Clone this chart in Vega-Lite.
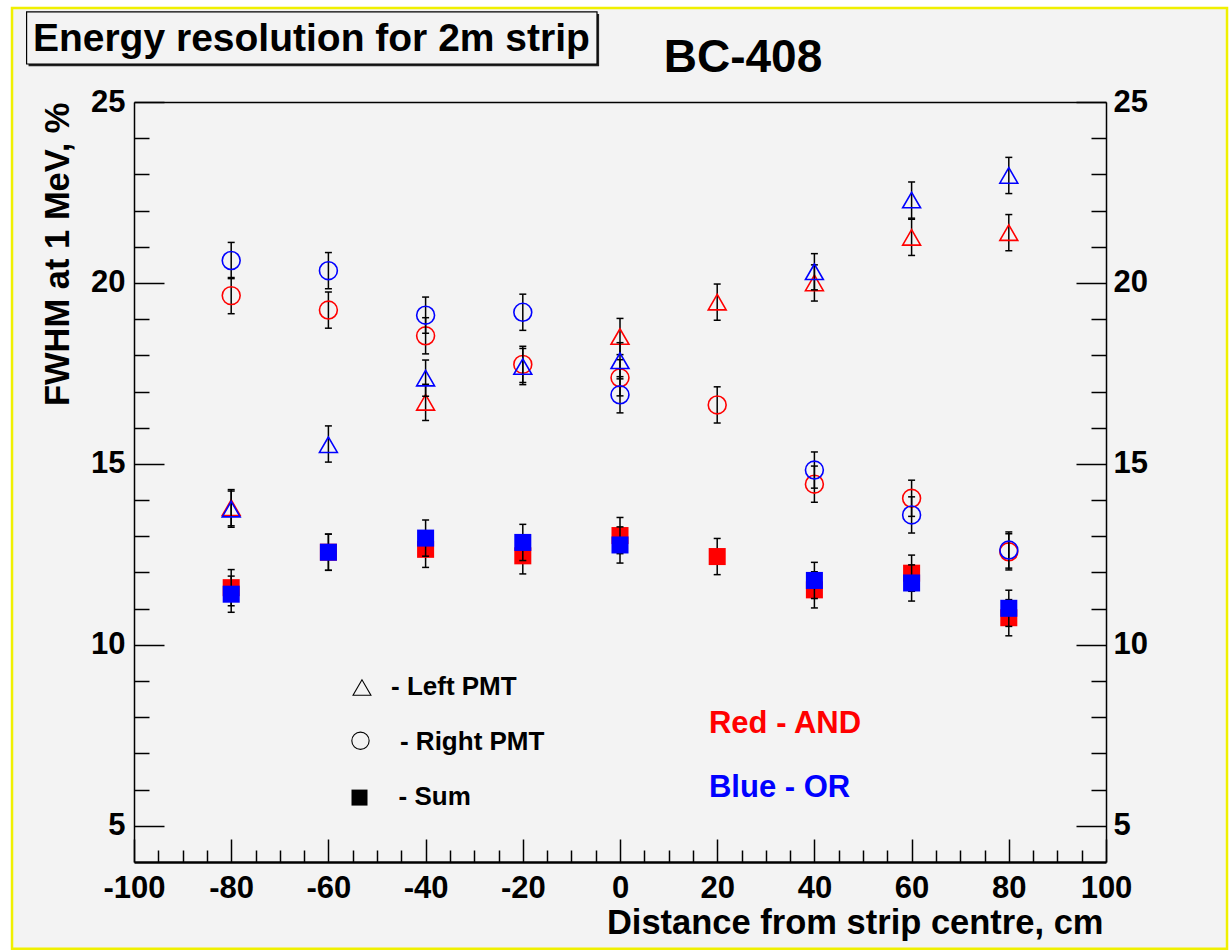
{
  "$schema": "https://vega.github.io/schema/vega-lite/v6.json",
  "width": 972,
  "height": 760,
  "autosize": {"type": "none"},
  "padding": {"left": 134, "top": 102, "right": 125, "bottom": 90},
  "background": "#ffffff",
  "config": {
    "view": {"stroke": null, "fill": null},
    "axis": {"grid": false, "labelFont": "Liberation Sans", "labelFontWeight": "bold", "labelColor": "#000000", "titleFont": "Liberation Sans", "titleFontWeight": "bold", "titleColor": "#000000", "domainColor": "#000000", "tickColor": "#000000", "labelFlush": false, "labelOverlap": false},
    "text": {"font": "Liberation Sans", "fontWeight": "bold"}
  },
  "datasets": {
    "pts": [
      {"x": -80, "y": 13.79, "lo": 13.29, "hi": 14.29, "det": "Left PMT", "trig": "AND"},
      {"x": -40, "y": 16.70, "lo": 16.20, "hi": 17.20, "det": "Left PMT", "trig": "AND"},
      {"x": 0, "y": 18.52, "lo": 18.02, "hi": 19.02, "det": "Left PMT", "trig": "AND"},
      {"x": 20, "y": 19.47, "lo": 18.97, "hi": 19.97, "det": "Left PMT", "trig": "AND"},
      {"x": 40, "y": 20.00, "lo": 19.50, "hi": 20.50, "det": "Left PMT", "trig": "AND"},
      {"x": 60, "y": 21.26, "lo": 20.76, "hi": 21.76, "det": "Left PMT", "trig": "AND"},
      {"x": 80, "y": 21.39, "lo": 20.89, "hi": 21.89, "det": "Left PMT", "trig": "AND"},
      {"x": -80, "y": 19.65, "lo": 19.15, "hi": 20.15, "det": "Right PMT", "trig": "AND"},
      {"x": -60, "y": 19.25, "lo": 18.75, "hi": 19.75, "det": "Right PMT", "trig": "AND"},
      {"x": -40, "y": 18.54, "lo": 18.04, "hi": 19.04, "det": "Right PMT", "trig": "AND"},
      {"x": -20, "y": 17.75, "lo": 17.25, "hi": 18.25, "det": "Right PMT", "trig": "AND"},
      {"x": 0, "y": 17.38, "lo": 16.88, "hi": 17.88, "det": "Right PMT", "trig": "AND"},
      {"x": 20, "y": 16.63, "lo": 16.13, "hi": 17.13, "det": "Right PMT", "trig": "AND"},
      {"x": 40, "y": 14.44, "lo": 13.94, "hi": 14.94, "det": "Right PMT", "trig": "AND"},
      {"x": 60, "y": 14.05, "lo": 13.55, "hi": 14.55, "det": "Right PMT", "trig": "AND"},
      {"x": 80, "y": 12.57, "lo": 12.07, "hi": 13.07, "det": "Right PMT", "trig": "AND"},
      {"x": -80, "y": 11.58, "lo": 11.08, "hi": 12.08, "det": "Sum", "trig": "AND"},
      {"x": -60, "y": 12.56, "lo": 12.06, "hi": 13.06, "det": "Sum", "trig": "AND"},
      {"x": -40, "y": 12.64, "lo": 12.14, "hi": 13.14, "det": "Sum", "trig": "AND"},
      {"x": -20, "y": 12.46, "lo": 11.96, "hi": 12.96, "det": "Sum", "trig": "AND"},
      {"x": 0, "y": 13.02, "lo": 12.52, "hi": 13.52, "det": "Sum", "trig": "AND"},
      {"x": 20, "y": 12.44, "lo": 11.94, "hi": 12.94, "det": "Sum", "trig": "AND"},
      {"x": 40, "y": 11.52, "lo": 11.02, "hi": 12.02, "det": "Sum", "trig": "AND"},
      {"x": 60, "y": 11.98, "lo": 11.48, "hi": 12.48, "det": "Sum", "trig": "AND"},
      {"x": 80, "y": 10.75, "lo": 10.25, "hi": 11.25, "det": "Sum", "trig": "AND"},
      {"x": -80, "y": 13.75, "lo": 13.25, "hi": 14.25, "det": "Left PMT", "trig": "OR"},
      {"x": -60, "y": 15.53, "lo": 15.05, "hi": 16.05, "det": "Left PMT", "trig": "OR"},
      {"x": -40, "y": 17.37, "lo": 16.87, "hi": 17.87, "det": "Left PMT", "trig": "OR"},
      {"x": -20, "y": 17.69, "lo": 17.19, "hi": 18.19, "det": "Left PMT", "trig": "OR"},
      {"x": 0, "y": 17.85, "lo": 17.35, "hi": 18.35, "det": "Left PMT", "trig": "OR"},
      {"x": 40, "y": 20.31, "lo": 19.81, "hi": 20.81, "det": "Left PMT", "trig": "OR"},
      {"x": 60, "y": 22.29, "lo": 21.79, "hi": 22.79, "det": "Left PMT", "trig": "OR"},
      {"x": 80, "y": 22.97, "lo": 22.47, "hi": 23.47, "det": "Left PMT", "trig": "OR"},
      {"x": -80, "y": 20.62, "lo": 20.12, "hi": 21.12, "det": "Right PMT", "trig": "OR"},
      {"x": -60, "y": 20.34, "lo": 19.84, "hi": 20.84, "det": "Right PMT", "trig": "OR"},
      {"x": -40, "y": 19.11, "lo": 18.61, "hi": 19.61, "det": "Right PMT", "trig": "OR"},
      {"x": -20, "y": 19.19, "lo": 18.69, "hi": 19.69, "det": "Right PMT", "trig": "OR"},
      {"x": 0, "y": 16.91, "lo": 16.41, "hi": 17.41, "det": "Right PMT", "trig": "OR"},
      {"x": 40, "y": 14.83, "lo": 14.33, "hi": 15.33, "det": "Right PMT", "trig": "OR"},
      {"x": 60, "y": 13.59, "lo": 13.09, "hi": 14.09, "det": "Right PMT", "trig": "OR"},
      {"x": 80, "y": 12.62, "lo": 12.12, "hi": 13.12, "det": "Right PMT", "trig": "OR"},
      {"x": -80, "y": 11.40, "lo": 10.90, "hi": 11.90, "det": "Sum", "trig": "OR"},
      {"x": -60, "y": 12.56, "lo": 12.06, "hi": 13.06, "det": "Sum", "trig": "OR"},
      {"x": -40, "y": 12.95, "lo": 12.45, "hi": 13.45, "det": "Sum", "trig": "OR"},
      {"x": -20, "y": 12.83, "lo": 12.33, "hi": 13.33, "det": "Sum", "trig": "OR"},
      {"x": 0, "y": 12.76, "lo": 12.26, "hi": 13.26, "det": "Sum", "trig": "OR"},
      {"x": 40, "y": 11.78, "lo": 11.28, "hi": 12.28, "det": "Sum", "trig": "OR"},
      {"x": 60, "y": 11.71, "lo": 11.21, "hi": 12.21, "det": "Sum", "trig": "OR"},
      {"x": 80, "y": 11.01, "lo": 10.51, "hi": 11.51, "det": "Sum", "trig": "OR"}
    ]
  },
  "layer": [
    {
      "data": {"values": [{}]},
      "mark": {"type": "rect", "fill": "#f3f3f3", "stroke": "#f0f000", "strokeWidth": 2.5},
      "encoding": {
        "x": {"datum": -125.1, "type": "quantitative", "scale": {"domain": [-100, 100], "nice": false, "zero": false}, "axis": {"orient": "top", "zindex": 1, "ticks": false, "labels": false, "title": null, "domainWidth": 1.5}},
        "x2": {"datum": 124.9},
        "y": {"datum": 27.6, "type": "quantitative", "scale": {"domain": [4, 25], "nice": false, "zero": false}, "axis": null},
        "y2": {"datum": 1.6}
      }
    },
    {
      "data": {"values": [{}]},
      "mark": {"type": "rect", "fill": "#222222"},
      "encoding": {
        "x": {"datum": -121.7, "type": "quantitative", "scale": {"domain": [-100, 100], "nice": false, "zero": false}, "axis": null},
        "x2": {"datum": -4.3},
        "y": {"datum": 27.43, "type": "quantitative", "scale": {"domain": [4, 25], "nice": false, "zero": false}, "axis": null},
        "y2": {"datum": 25.99}
      }
    },
    {
      "data": {"values": [{}]},
      "mark": {"type": "rect", "fill": "#f3f3f3", "stroke": "#000000", "strokeWidth": 1.2},
      "encoding": {
        "x": {"datum": -122.1, "type": "quantitative", "scale": {"domain": [-100, 100], "nice": false, "zero": false}, "axis": null},
        "x2": {"datum": -4.73},
        "y": {"datum": 27.49, "type": "quantitative", "scale": {"domain": [4, 25], "nice": false, "zero": false}, "axis": null},
        "y2": {"datum": 26.05}
      }
    },
    {
      "data": {"values": [{"label": "Energy resolution for 2m strip"}]},
      "mark": {"type": "text", "align": "left", "baseline": "alphabetic", "fontSize": 39, "color": "#000000"},
      "encoding": {
        "x": {"datum": -120.8, "type": "quantitative", "scale": {"domain": [-100, 100], "nice": false, "zero": false}, "axis": null},
        "y": {"datum": 26.41, "type": "quantitative", "scale": {"domain": [4, 25], "nice": false, "zero": false}, "axis": null},
        "text": {"field": "label"}
      }
    },
    {
      "data": {"values": [{"label": "BC-408"}]},
      "mark": {"type": "text", "align": "center", "baseline": "alphabetic", "fontSize": 46, "color": "#000000"},
      "encoding": {
        "x": {"datum": 25.31, "type": "quantitative", "scale": {"domain": [-100, 100], "nice": false, "zero": false}, "axis": null},
        "y": {"datum": 25.83, "type": "quantitative", "scale": {"domain": [4, 25], "nice": false, "zero": false}, "axis": null},
        "text": {"field": "label"}
      }
    },
    {
      "data": {"name": "pts"},
      "transform": [{"filter": "datum.trig === 'AND'"}],
      "mark": {"type": "rule", "color": "#000000", "strokeWidth": 1.5},
      "encoding": {
        "x": {"field": "x", "type": "quantitative", "scale": {"domain": [-100, 100], "nice": false, "zero": false},
          "axis": {"orient": "bottom", "zindex": 1, "values": [-100, -80, -60, -40, -20, 0, 20, 40, 60, 80, 100], "labelExpr": "datum.value < 0 ? '-' + abs(datum.value) : '' + datum.value", "tickSize": -23, "tickWidth": 1.5, "labelFontSize": 31, "labelPadding": 34, "domainWidth": 2.5, "title": "Distance from strip centre, cm", "titleFontSize": 34.5, "titleAnchor": "end", "titleAlign": "right", "titleBaseline": "alphabetic", "titlePadding": 30, "titleX": 969}},
        "y": {"field": "lo", "type": "quantitative", "scale": {"domain": [4, 25], "nice": false, "zero": false},
          "axis": {"orient": "left", "zindex": 1, "values": [5, 10, 15, 20, 25], "tickSize": -30, "tickWidth": 1.5, "labelFontSize": 31, "labelPadding": 39, "domainWidth": 1.5, "title": "FWHM at 1 MeV, %", "titleFontSize": 34.5, "titleAnchor": "end", "titleAlign": "right", "titleBaseline": "alphabetic", "titlePadding": 22}},
        "y2": {"field": "hi"}
      }
    },
    {
      "data": {"name": "pts"},
      "transform": [{"filter": "datum.trig === 'AND'"}],
      "mark": {"type": "tick", "orient": "horizontal", "color": "#000000", "size": 7, "thickness": 1.5, "opacity": 1},
      "encoding": {
        "x": {"field": "x", "type": "quantitative", "scale": {"domain": [-100, 100], "nice": false, "zero": false},
          "axis": {"orient": "bottom", "zindex": 1, "values": [-95, -90, -85, -75, -70, -65, -55, -50, -45, -35, -30, -25, -15, -10, -5, 5, 10, 15, 25, 30, 35, 45, 50, 55, 65, 70, 75, 85, 90, 95], "tickSize": -12, "tickWidth": 1.5, "labels": false, "domain": false, "title": null}},
        "y": {"field": "lo", "type": "quantitative", "scale": {"domain": [4, 25], "nice": false, "zero": false},
          "axis": {"orient": "left", "zindex": 1, "values": [6, 7, 8, 9, 11, 12, 13, 14, 16, 17, 18, 19, 21, 22, 23, 24], "tickSize": -15, "tickWidth": 1.5, "labels": false, "domain": false, "title": null}}
      }
    },
    {
      "data": {"name": "pts"},
      "transform": [{"filter": "datum.trig === 'AND'"}],
      "mark": {"type": "tick", "orient": "horizontal", "color": "#000000", "size": 7, "thickness": 1.5, "opacity": 1},
      "encoding": {
        "x": {"field": "x", "type": "quantitative", "scale": {"domain": [-100, 100], "nice": false, "zero": false}, "axis": null},
        "y": {"field": "hi", "type": "quantitative", "scale": {"domain": [4, 25], "nice": false, "zero": false},
          "axis": {"orient": "right", "zindex": 1, "values": [5, 10, 15, 20, 25], "tickSize": -30, "tickWidth": 1.5, "labelFontSize": 31, "labelPadding": 37, "domainWidth": 1.5, "title": null}}
      }
    },
    {
      "data": {"name": "pts"},
      "transform": [{"filter": "datum.trig === 'AND' && datum.det !== 'Sum'"}],
      "mark": {"type": "point", "filled": false, "color": "#ff0000", "strokeWidth": 1.6, "size": 320, "opacity": 1},
      "encoding": {
        "x": {"field": "x", "type": "quantitative", "scale": {"domain": [-100, 100], "nice": false, "zero": false}, "axis": null},
        "y": {"field": "y", "type": "quantitative", "scale": {"domain": [4, 25], "nice": false, "zero": false},
          "axis": {"orient": "right", "zindex": 1, "values": [6, 7, 8, 9, 11, 12, 13, 14, 16, 17, 18, 19, 21, 22, 23, 24], "tickSize": -15, "tickWidth": 1.5, "labels": false, "domain": false, "title": null}},
        "shape": {"field": "det", "type": "nominal", "scale": {"domain": ["Left PMT", "Right PMT"], "range": ["triangle-up", "circle"]}, "legend": null}
      }
    },
    {
      "data": {"name": "pts"},
      "transform": [{"filter": "datum.trig === 'AND' && datum.det === 'Sum'"}],
      "mark": {"type": "square", "filled": true, "color": "#ff0000", "size": 290, "opacity": 1},
      "encoding": {
        "x": {"field": "x", "type": "quantitative", "scale": {"domain": [-100, 100], "nice": false, "zero": false}, "axis": null},
        "y": {"field": "y", "type": "quantitative", "scale": {"domain": [4, 25], "nice": false, "zero": false}, "axis": null}
      }
    },
    {
      "data": {"name": "pts"},
      "transform": [{"filter": "datum.trig === 'OR'"}],
      "mark": {"type": "rule", "color": "#000000", "strokeWidth": 1.5},
      "encoding": {
        "x": {"field": "x", "type": "quantitative", "scale": {"domain": [-100, 100], "nice": false, "zero": false}, "axis": null},
        "y": {"field": "lo", "type": "quantitative", "scale": {"domain": [4, 25], "nice": false, "zero": false}, "axis": null},
        "y2": {"field": "hi"}
      }
    },
    {
      "data": {"name": "pts"},
      "transform": [{"filter": "datum.trig === 'OR'"}],
      "mark": {"type": "tick", "orient": "horizontal", "color": "#000000", "size": 7, "thickness": 1.5, "opacity": 1},
      "encoding": {
        "x": {"field": "x", "type": "quantitative", "scale": {"domain": [-100, 100], "nice": false, "zero": false}, "axis": null},
        "y": {"field": "lo", "type": "quantitative", "scale": {"domain": [4, 25], "nice": false, "zero": false}, "axis": null}
      }
    },
    {
      "data": {"name": "pts"},
      "transform": [{"filter": "datum.trig === 'OR'"}],
      "mark": {"type": "tick", "orient": "horizontal", "color": "#000000", "size": 7, "thickness": 1.5, "opacity": 1},
      "encoding": {
        "x": {"field": "x", "type": "quantitative", "scale": {"domain": [-100, 100], "nice": false, "zero": false}, "axis": null},
        "y": {"field": "hi", "type": "quantitative", "scale": {"domain": [4, 25], "nice": false, "zero": false}, "axis": null}
      }
    },
    {
      "data": {"name": "pts"},
      "transform": [{"filter": "datum.trig === 'OR' && datum.det !== 'Sum'"}],
      "mark": {"type": "point", "filled": false, "color": "#0000ff", "strokeWidth": 1.6, "size": 320, "opacity": 1},
      "encoding": {
        "x": {"field": "x", "type": "quantitative", "scale": {"domain": [-100, 100], "nice": false, "zero": false}, "axis": null},
        "y": {"field": "y", "type": "quantitative", "scale": {"domain": [4, 25], "nice": false, "zero": false}, "axis": null},
        "shape": {"field": "det", "type": "nominal", "scale": {"domain": ["Left PMT", "Right PMT"], "range": ["triangle-up", "circle"]}, "legend": null}
      }
    },
    {
      "data": {"name": "pts"},
      "transform": [{"filter": "datum.trig === 'OR' && datum.det === 'Sum'"}],
      "mark": {"type": "square", "filled": true, "color": "#0000ff", "size": 290, "opacity": 1},
      "encoding": {
        "x": {"field": "x", "type": "quantitative", "scale": {"domain": [-100, 100], "nice": false, "zero": false}, "axis": null},
        "y": {"field": "y", "type": "quantitative", "scale": {"domain": [4, 25], "nice": false, "zero": false}, "axis": null}
      }
    },
    {
      "data": {"values": [{"sym": "triangle-up"}]},
      "mark": {"type": "point", "filled": false, "shape": "triangle-up", "color": "#000000", "strokeWidth": 1.1, "size": 320, "opacity": 1},
      "encoding": {
        "x": {"datum": -53.09, "type": "quantitative", "scale": {"domain": [-100, 100], "nice": false, "zero": false}, "axis": null},
        "y": {"datum": 8.82, "type": "quantitative", "scale": {"domain": [4, 25], "nice": false, "zero": false}, "axis": null}
      }
    },
    {
      "data": {"values": [{"sym": "circle"}]},
      "mark": {"type": "point", "filled": false, "shape": "circle", "color": "#000000", "strokeWidth": 1.1, "size": 300, "opacity": 1},
      "encoding": {
        "x": {"datum": -53.4, "type": "quantitative", "scale": {"domain": [-100, 100], "nice": false, "zero": false}, "axis": null},
        "y": {"datum": 7.35, "type": "quantitative", "scale": {"domain": [4, 25], "nice": false, "zero": false}, "axis": null}
      }
    },
    {
      "data": {"values": [{"sym": "square"}]},
      "mark": {"type": "square", "filled": true, "color": "#000000", "size": 256, "opacity": 1},
      "encoding": {
        "x": {"datum": -53.6, "type": "quantitative", "scale": {"domain": [-100, 100], "nice": false, "zero": false}, "axis": null},
        "y": {"datum": 5.78, "type": "quantitative", "scale": {"domain": [4, 25], "nice": false, "zero": false}, "axis": null}
      }
    },
    {
      "data": {"values": [{"label": "- Left PMT"}]},
      "mark": {"type": "text", "align": "left", "baseline": "alphabetic", "fontSize": 26, "color": "#000000"},
      "encoding": {
        "x": {"datum": -47.12, "type": "quantitative", "scale": {"domain": [-100, 100], "nice": false, "zero": false}, "axis": null},
        "y": {"datum": 8.614, "type": "quantitative", "scale": {"domain": [4, 25], "nice": false, "zero": false}, "axis": null},
        "text": {"field": "label"}
      }
    },
    {
      "data": {"values": [{"label": "- Right PMT"}]},
      "mark": {"type": "text", "align": "left", "baseline": "alphabetic", "fontSize": 26, "color": "#000000"},
      "encoding": {
        "x": {"datum": -45.27, "type": "quantitative", "scale": {"domain": [-100, 100], "nice": false, "zero": false}, "axis": null},
        "y": {"datum": 7.094, "type": "quantitative", "scale": {"domain": [4, 25], "nice": false, "zero": false}, "axis": null},
        "text": {"field": "label"}
      }
    },
    {
      "data": {"values": [{"label": "- Sum"}]},
      "mark": {"type": "text", "align": "left", "baseline": "alphabetic", "fontSize": 26, "color": "#000000"},
      "encoding": {
        "x": {"datum": -45.56, "type": "quantitative", "scale": {"domain": [-100, 100], "nice": false, "zero": false}, "axis": null},
        "y": {"datum": 5.575, "type": "quantitative", "scale": {"domain": [4, 25], "nice": false, "zero": false}, "axis": null},
        "text": {"field": "label"}
      }
    },
    {
      "data": {"values": [{"label": "Red - AND"}]},
      "mark": {"type": "text", "align": "left", "baseline": "alphabetic", "fontSize": 31, "color": "#ff0000"},
      "encoding": {
        "x": {"datum": 18.31, "type": "quantitative", "scale": {"domain": [-100, 100], "nice": false, "zero": false}, "axis": null},
        "y": {"datum": 7.564, "type": "quantitative", "scale": {"domain": [4, 25], "nice": false, "zero": false}, "axis": null},
        "text": {"field": "label"}
      }
    },
    {
      "data": {"values": [{"label": "Blue - OR"}]},
      "mark": {"type": "text", "align": "left", "baseline": "alphabetic", "fontSize": 31, "color": "#0000ff"},
      "encoding": {
        "x": {"datum": 18.31, "type": "quantitative", "scale": {"domain": [-100, 100], "nice": false, "zero": false}, "axis": null},
        "y": {"datum": 5.79, "type": "quantitative", "scale": {"domain": [4, 25], "nice": false, "zero": false}, "axis": null},
        "text": {"field": "label"}
      }
    }
  ],
  "resolve": {"axis": {"x": "independent", "y": "independent"}}
}
